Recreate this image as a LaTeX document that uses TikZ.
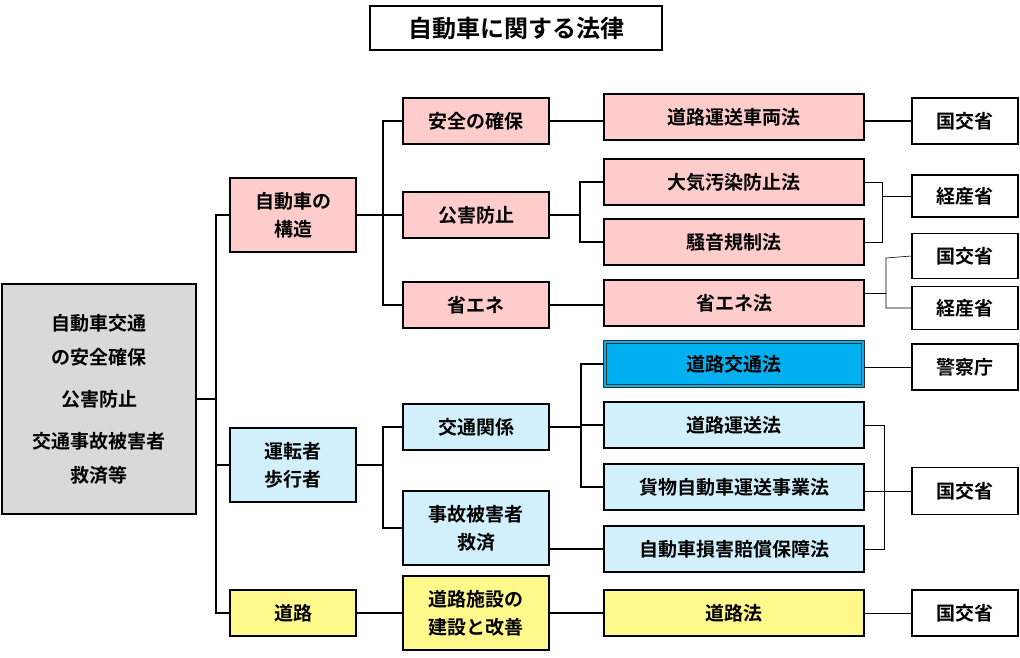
\documentclass[tikz,border=0pt]{standalone}
\usepackage{fontspec}
\newfontfamily\cjk{Noto Sans CJK JP}[BoldFont={Noto Sans CJK JP Bold}]
\definecolor{skyblue}{HTML}{00B0F0}
\begin{document}
\begin{tikzpicture}[x=1pt,y=-1pt,
    box/.style={draw=black,line width=1.2pt,inner sep=0pt,align=center,font=\cjk\bfseries\fontsize{19}{28}\selectfont},
    pinkbox/.style={box,fill=red!20},
    bluebox/.style={box,fill=cyan!18},
    yellowbox/.style={box,fill=yellow!45},
    link/.style={line width=1.4pt},
    thin/.style={line width=0.6pt}]
    \useasboundingbox (0,0) rectangle (1020,657);

    \node[box,minimum width=292,minimum height=44,font=\cjk\bfseries\fontsize{24}{28}\selectfont] (title) at (516,28) {自動車に関する法律};

    % left column
    \node[box,fill=black!15,minimum width=194,minimum height=230,font=\cjk\bfseries\fontsize{19}{34}\selectfont] (goal) at (99,399)
        {自動車交通\\の安全確保\\[8pt]公害防止\\[8pt]交通事故被害者\\救済等};
    \node[pinkbox,minimum width=126,minimum height=74] (struct) at (293,215) {自動車の\\構造};
    \node[bluebox,minimum width=126,minimum height=74] (driver) at (293,465) {運転者\\歩行者};
    \node[yellowbox,minimum width=126,minimum height=46] (road) at (293,613) {道路};

    % second column
    \node[pinkbox,minimum width=146,minimum height=46] (safe) at (476,121) {安全の確保};
    \node[pinkbox,minimum width=146,minimum height=46] (poll) at (476,215) {公害防止};
    \node[pinkbox,minimum width=146,minimum height=46] (energy) at (476,305) {省エネ};
    \node[bluebox,minimum width=146,minimum height=46] (traffic) at (476,427) {交通関係};
    \node[bluebox,minimum width=146,minimum height=74] (relief) at (476,528) {事故被害者\\救済};
    \node[yellowbox,minimum width=146,minimum height=74] (facil) at (476,613) {道路施設の\\建設と改善};

    % laws
    \node[pinkbox,minimum width=260,minimum height=46] (vehlaw) at (734,117) {道路運送車両法};
    \node[pinkbox,minimum width=260,minimum height=46] (airlaw) at (734,182) {大気汚染防止法};
    \node[pinkbox,minimum width=260,minimum height=46] (noiselaw) at (734,242) {騒音規制法};
    \node[pinkbox,minimum width=260,minimum height=46] (energylaw) at (734,303) {省エネ法};
    \node[box,fill=skyblue,double=skyblue,double distance=1.5pt,draw=black!80,minimum width=258,minimum height=44] (trafficlaw) at (734,364) {道路交通法};
    \node[bluebox,minimum width=260,minimum height=46] (translaw) at (734,425) {道路運送法};
    \node[bluebox,minimum width=260,minimum height=46] (cargolaw) at (734,487) {貨物自動車運送事業法};
    \node[bluebox,minimum width=260,minimum height=46] (insurlaw) at (734,549) {自動車損害賠償保障法};
    \node[yellowbox,minimum width=260,minimum height=46] (roadlaw) at (734,613) {道路法};

    % ministries
    \node[box,minimum width=106,minimum height=46] (mlit1) at (965,121) {国交省};
    \node[box,minimum width=106,minimum height=42] (meti1) at (965,196) {経産省};
    \node[box,minimum width=106,minimum height=45] (mlit2) at (965,256) {国交省};
    \node[box,minimum width=106,minimum height=43] (meti2) at (965,308) {経産省};
    \node[box,minimum width=106,minimum height=46] (police) at (965,367) {警察庁};
    \node[box,minimum width=106,minimum height=47] (mlit3) at (965,491) {国交省};
    \node[box,minimum width=106,minimum height=46] (mlit4) at (965,613) {国交省};

    % tree
    \draw[link] (goal.east) -- (216,399);
    \draw[link] (struct.west) -- (216,215) |- (road.west);
    \draw[link] (216,465) -- (driver.west);
    \draw[link] (struct.east) -- (383,215);
    \draw[link] (safe.west) -- (383,121) |- (energy.west);
    \draw[link] (383,215) -- (poll.west);
    \draw[link] (driver.east) -- (383,465);
    \draw[link] (traffic.west) -- (383,427) |- (relief.west);
    \draw[link] (road.east) -- (facil.west);

    \draw[link] (safe.east) -- (vehlaw.west |- safe.east);
    \draw[link] (poll.east) -- (580,215);
    \draw[link] (airlaw.west) -- (580,182) |- (noiselaw.west);
    \draw[link] (energy.east) -- (energylaw.west |- energy.east);
    \draw[link] (traffic.east) -- (581,427);
    \draw[link] (trafficlaw.west) -- (581,364) |- (cargolaw.west);
    \draw[link] (581,425) -- (translaw.west);
    \draw[link] (relief.east |- insurlaw.west) -- (insurlaw.west);
    \draw[link] (facil.east) -- (roadlaw.west);

    % ministry links
    \draw[link] (vehlaw.east |- mlit1.west) -- (mlit1.west);
    \draw[thin] (airlaw.east) -- (882,182) |- (noiselaw.east);
    \draw[thin] (882,196) -- (meti1.west);
    \draw[thin] (mlit2.west) -- (886,258) |- (meti2.west);
    \draw[thin] (energylaw.east |- 0,293) -- (886,293);
    \draw[thin] (trafficlaw.east |- police.west) -- (police.west);
    \draw[thin] (translaw.east) -- (884,425) |- (insurlaw.east);
    \draw[thin] (cargolaw.east |- mlit3.west) -- (mlit3.west);
    \draw[thin] (roadlaw.east) -- (mlit4.west);
\end{tikzpicture}
\end{document}
